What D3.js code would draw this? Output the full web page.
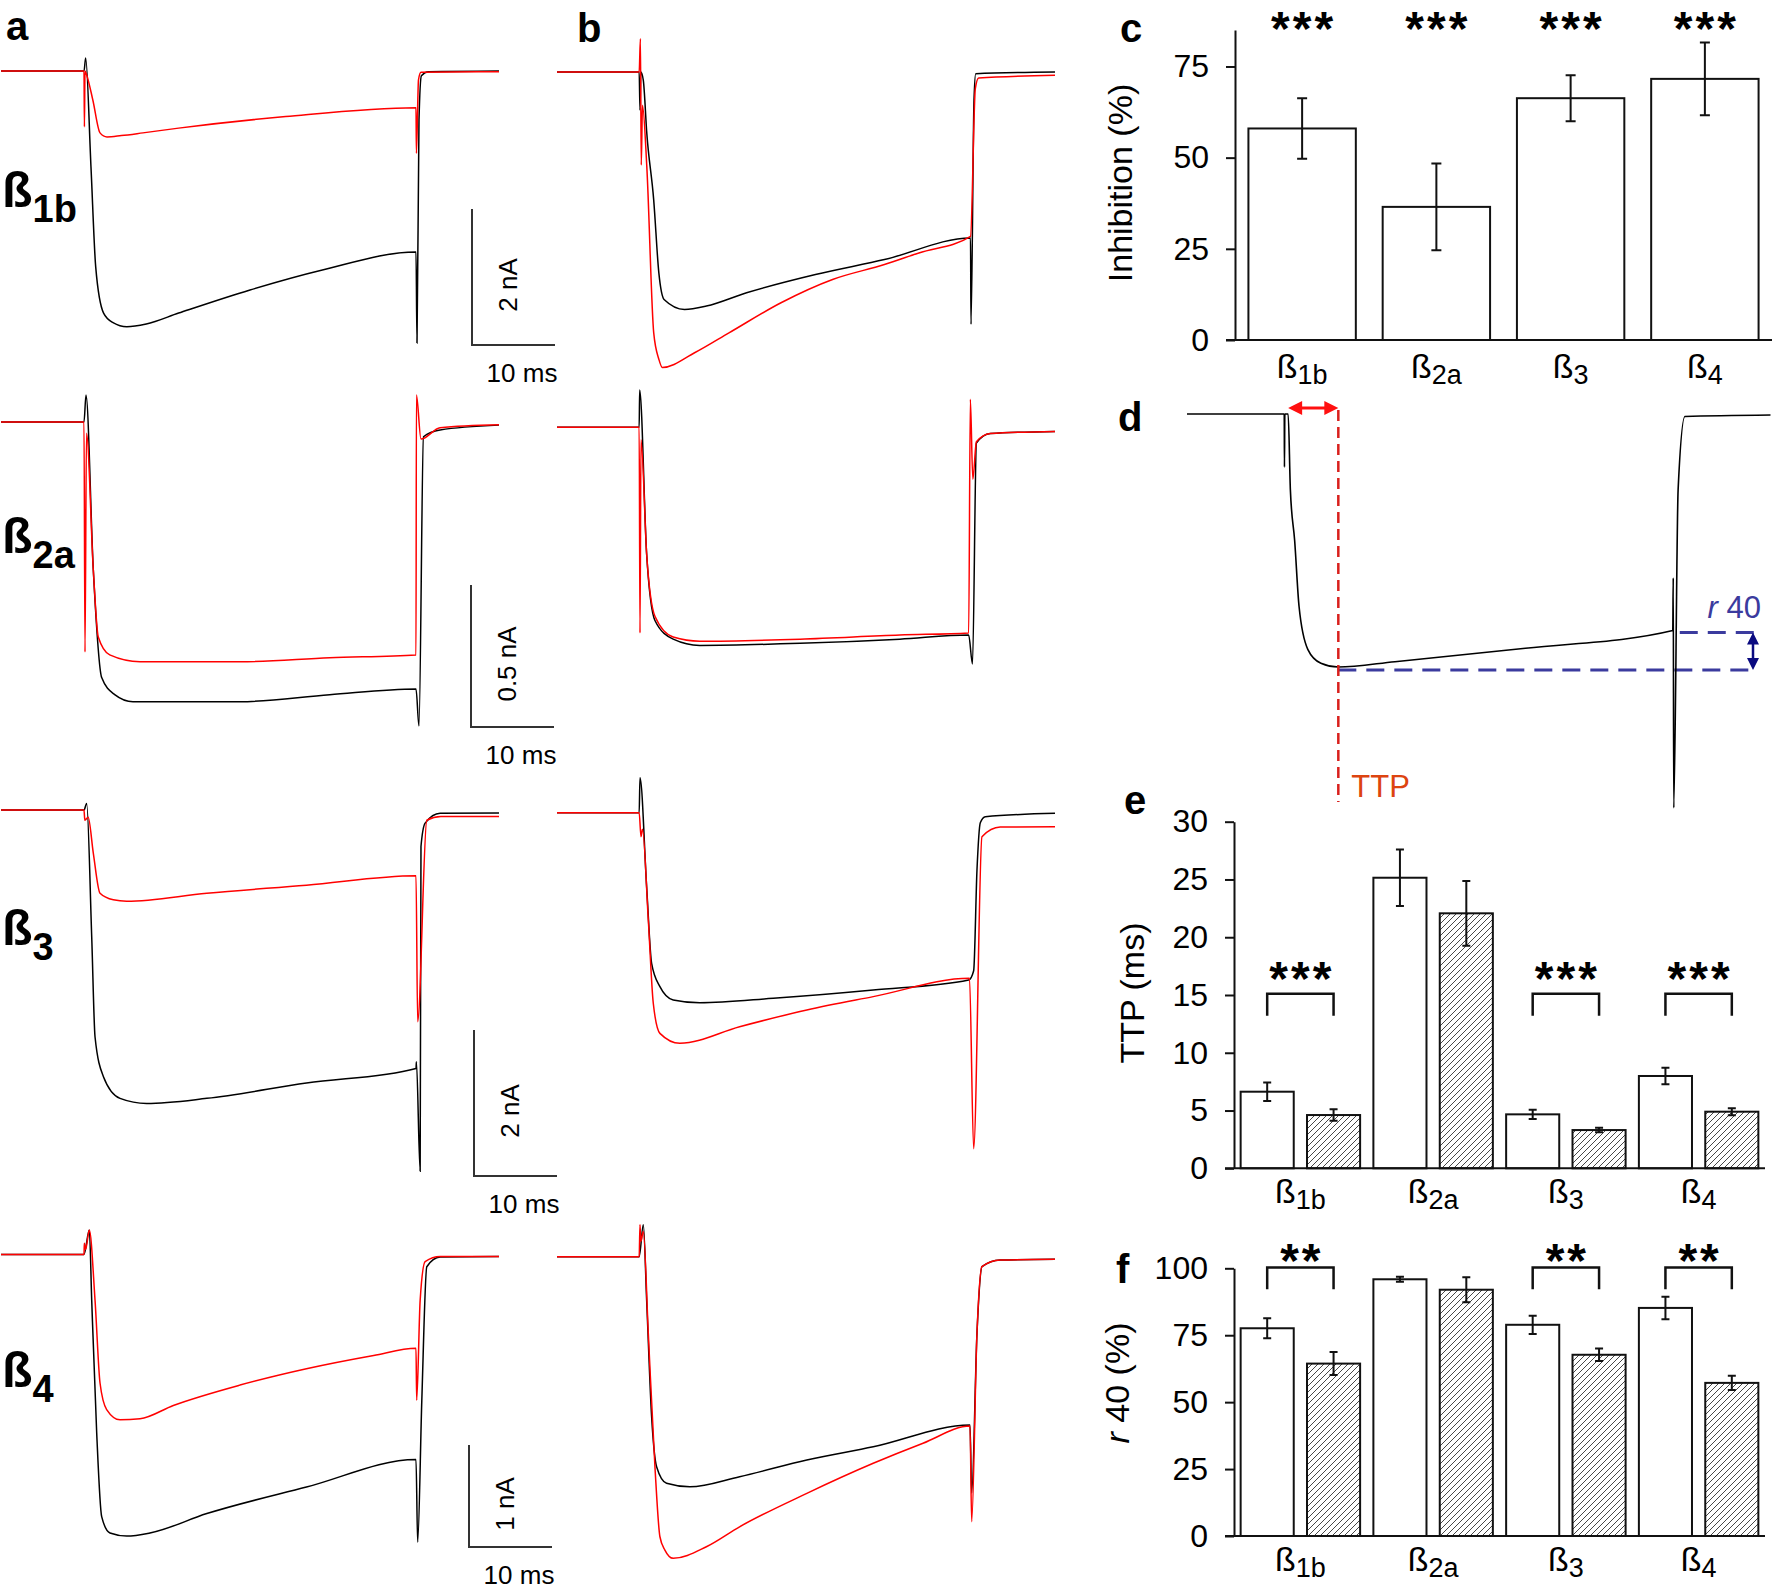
<!DOCTYPE html>
<html>
<head>
<meta charset="utf-8">
<script src="https://cdn.jsdelivr.net/npm/d3@7"></script>
<style>
  body { margin: 0; background: #fff; }
  svg { display: block; }
  text { font-family: "Liberation Sans", Arial, Helvetica, sans-serif; }
</style>
</head>
<body>
<script>
'use strict';

// ---- DATA ----------------------------------------------------------------
// traces: [time (ms), current]. column a in nA, column b normalised to end-of-pulse current
var a1Black = [[0,0],[10,0],[10.2,0.19],[10.84,-1.41],[11.41,-2.88],[12.36,-3.56],[13.5,-3.7],[15.16,-3.76],[17.5,-3.72],[21.4,-3.56],[30,-3.22],[38.6,-2.93],[50,-2.66],[50.12,-4.0],[50.36,-0.72],[50.65,-0.07],[51.5,-0.01],[60,0]];
var a1Red   = [[0,0],[10,0],[10.05,-0.82],[10.12,0],[10.3,-0.05],[11.07,-0.43],[11.93,-0.91],[12.77,-0.97],[14.5,-0.95],[17.1,-0.91],[21.4,-0.84],[34.3,-0.67],[50,-0.54],[50.05,-1.21],[50.3,-0.13],[50.6,-0.02],[60,-0.01]];
var a2Black = [[0,0],[10,0],[10.24,0.095],[11.12,-0.52],[12.13,-0.9],[13.7,-0.96],[15.9,-0.985],[28.8,-0.985],[39.6,-0.96],[50,-0.94],[50.36,-1.07],[50.9,-0.052],[52.9,-0.028],[60,-0.011]];
var a2Red   = [[0,0],[10,0],[10.12,-0.81],[10.3,-0.04],[11.12,-0.52],[11.72,-0.757],[13.1,-0.82],[16.75,-0.844],[28.8,-0.844],[39.6,-0.83],[50,-0.82],[50.05,0.095],[50.6,-0.06],[52.9,-0.02],[60,-0.01]];
var a3Black = [[0,0],[10,0],[10.32,0.09],[10.93,-1.74],[11.33,-3.11],[12.33,-3.65],[14.34,-3.95],[17.55,-4.02],[24.8,-3.95],[36.8,-3.74],[50,-3.54],[50.05,-3.45],[50.5,-4.95],[50.6,-0.5],[51.1,-0.18],[52.9,-0.045],[60,-0.04]];
var a3Red   = [[0,0],[10,0],[10.1,-0.14],[10.5,-0.1],[11.12,-0.59],[11.93,-1.14],[13.53,-1.23],[15.14,-1.25],[24.8,-1.14],[36.8,-1.03],[50,-0.9],[50.2,-2.9],[51.3,-0.14],[53,-0.09],[60,-0.09]];
var a4Black = [[0,0],[10,0],[10.64,0.24],[10.93,-0.45],[11.53,-1.75],[12.13,-2.57],[13.13,-2.73],[15.14,-2.76],[17.95,-2.73],[24.8,-2.54],[36.8,-2.28],[50,-2.01],[50.2,-2.82],[50.7,-1.43],[51.3,-0.12],[52.9,-0.025],[60,-0.02]];
var a4Red   = [[0,0],[10,0],[10.04,0.11],[10.2,0.05],[10.64,0.24],[11.33,-0.45],[11.93,-1.26],[12.73,-1.52],[14.34,-1.62],[16.75,-1.61],[20.76,-1.48],[28.8,-1.28],[36.8,-1.12],[44.9,-0.99],[50,-0.92],[50.08,-1.43],[50.5,-0.45],[51.1,-0.07],[52.9,-0.02],[60,-0.02]];

var b1Black = [[0,0],[9.9,0],[10,-0.23],[10.1,0],[10.4,-0.05],[10.82,-0.37],[11.65,-0.77],[12.27,-1.21],[12.9,-1.37],[15.37,-1.43],[18,-1.41],[22.84,-1.33],[31.14,-1.22],[39.45,-1.13],[49.82,-1.0],[49.88,-1.52],[50.24,-0.17],[50.45,-0.01],[60,0]];
var b1Red   = [[0,0],[9.9,0],[10.05,0.2],[10.15,-0.56],[10.3,-0.2],[10.82,-0.57],[11.65,-1.57],[12.27,-1.73],[12.69,-1.78],[16.63,-1.69],[20.77,-1.57],[26.99,-1.39],[33.2,-1.25],[39.45,-1.16],[43.6,-1.09],[49.82,-0.99],[50.4,-0.1],[50.8,-0.036],[60,-0.02]];
var b2Black = [[0,0],[9.9,0],[9.96,0.18],[10.8,-0.61],[11.8,-0.93],[14,-1.02],[17.2,-1.05],[29.3,-1.04],[41.3,-1.02],[49.6,-1.0],[50.06,-1.14],[50.53,-0.076],[52.2,-0.03],[60,-0.02]];
var b2Red   = [[0,0],[9.9,0],[10,-0.99],[10.12,-0.06],[10.8,-0.61],[11.8,-0.91],[14,-1.01],[17.2,-1.03],[29.3,-1.02],[41.3,-1.0],[49.6,-0.99],[49.8,0.135],[50.1,-0.25],[50.53,-0.07],[52.2,-0.03],[60,-0.02]];
var b3Black = [[0,0],[9.9,0],[10,0.21],[10.8,-0.445],[11.4,-0.906],[12.4,-1.046],[14,-1.126],[17.2,-1.143],[26.06,-1.116],[38.1,-1.066],[49.6,-1.006],[50.2,-0.95],[50.6,-0.345],[51,-0.06],[51.6,-0.024],[60,-0.004]];
var b3Red   = [[0,0],[9.9,0],[10.12,-0.144],[10.3,-0.1],[11,-0.645],[11.6,-1.146],[12.4,-1.327],[14.8,-1.387],[22,-1.287],[30.1,-1.186],[38.1,-1.106],[49.7,-0.996],[50.2,-2.02],[51.2,-0.144],[53.4,-0.086],[60,-0.084]];
var b4Black = [[0,0],[9.9,0],[10.4,0.19],[10.8,-0.257],[11.4,-0.948],[12,-1.244],[13.2,-1.342],[16,-1.363],[22,-1.303],[30.1,-1.204],[38.1,-1.126],[49.76,-0.997],[49.96,-1.4],[50.6,-0.452],[51.2,-0.059],[53.4,-0.02],[60,-0.015]];
var b4Red   = [[0,0],[9.9,0],[10,0.19],[10.1,0.09],[10.4,0.15],[11,-0.454],[11.8,-1.244],[12.4,-1.659],[13,-1.738],[14,-1.787],[18,-1.718],[22,-1.6],[30.1,-1.402],[38.1,-1.224],[44.1,-1.105],[49.76,-1.003],[49.96,-1.57],[50.6,-0.452],[51.2,-0.059],[53.4,-0.02],[60,-0.015]];

// panel d example trace, normalised to peak
var dTrace = [[0,0],[10,0],[10.02,-0.21],[10.06,0],[10.4,0],[10.63,-0.3],[11.07,-0.5],[11.52,-0.76],[12.42,-0.93],[13.77,-0.985],[15.56,-1.0],[21.38,-0.979],[34.8,-0.926],[49.95,-0.856],[50,-0.648],[50.05,-1.557],[50.5,-0.3],[51.2,-0.01],[60,-0.004]];
var dStart = 10.4, dPeak = [15.56, -1.0], dEnd = [49.95, -0.856];

var betas = ['1b', '2a', '3', '4'];
var scaleBarValues = [2, 0.5, 2, 1];
var scaleBarLabels = ['2 nA', '0.5 nA', '2 nA', '1 nA'];

var inhibition = [58.0, 36.5, 66.3, 71.6];
var inhibitionErr = [8.3, 11.9, 6.3, 10.0];
var inhibitionSig = ['***', '***', '***', '***'];
var inhibitionTicks = [0, 25, 50, 75];

var ttpCtrl = [6.63, 25.15, 4.67, 7.99];
var ttpCtrlErr = [0.8, 2.45, 0.4, 0.72];
var ttpDrug = [4.61, 22.07, 3.31, 4.9];
var ttpDrugErr = [0.5, 2.8, 0.2, 0.3];
var ttpSig = ['***', '', '***', '***'];
var ttpTicks = [0, 5, 10, 15, 20, 25, 30];
var ttpBracket = [15.1, 13.2];

var r40Ctrl = [77.6, 95.9, 78.9, 85.2];
var r40CtrlErr = [3.7, 0.9, 3.4, 4.2];
var r40Drug = [64.4, 92.0, 67.7, 57.2];
var r40DrugErr = [4.3, 4.7, 2.3, 2.7];
var r40Sig = ['**', '', '**', '**'];
var r40Ticks = [0, 25, 50, 75, 100];
var r40Bracket = [100.3, 92.2];

// ---- SETUP ---------------------------------------------------------------
var svg = d3.select('body').append('svg').attr('width', 1773).attr('height', 1591);

var defs = svg.append('defs');
defs.append('pattern')
  .attr('id', 'hatch')
  .attr('patternUnits', 'userSpaceOnUse')
  .attr('width', 6).attr('height', 6)
  .append('path')
  .attr('d', 'M-1,1 l2,-2 M0,6 l6,-6 M5,7 l2,-2')
  .attr('stroke', '#333').attr('stroke-width', 0.9);

function panelLetter(txt, x, y) {
  svg.append('text').attr('x', x).attr('y', y)
    .attr('font-size', 40).attr('font-weight', 'bold').text(txt);
}

function stars(g, x, y, txt) {
  g.append('text').attr('x', x + 1.5).attr('y', y)
    .attr('text-anchor', 'middle').attr('font-size', 48).attr('font-weight', 'bold')
    .attr('letter-spacing', 3).text(txt);
}

// ---- TRACES (a, b) -------------------------------------------------------
var rows = [
  { x0: 1,   base: 71,     k: 68,    black: a1Black, red: a1Red, bar: [472, 345] },
  { x0: 1,   base: 422,    k: 284,   black: a2Black, red: a2Red, bar: [471, 727] },
  { x0: 1,   base: 810,    k: 73,    black: a3Black, red: a3Red, bar: [474, 1176] },
  { x0: 1,   base: 1254.5, k: 102,   black: a4Black, red: a4Red, bar: [469, 1547] },
  { x0: 557, base: 72,     k: 166,   black: b1Black, red: b1Red },
  { x0: 557, base: 427.3,  k: 207.7, black: b2Black, red: b2Red },
  { x0: 557, base: 812.7,  k: 166.3, black: b3Black, red: b3Red },
  { x0: 557, base: 1256.7, k: 168.8, black: b4Black, red: b4Red }
];
var rowLabelY = [207, 553, 945, 1387];

rows.forEach(function(r, i) {
  var x = d3.scaleLinear().domain([0, 60]).range([r.x0, r.x0 + 498]);
  var y = d3.scaleLinear().domain([0, -1]).range([r.base, r.base + r.k]);
  var line = d3.line()
    .x(function(d) { return x(d[0]); })
    .y(function(d) { return y(d[1]); })
    .curve(d3.curveMonotoneX);
  var g = svg.append('g');
  g.append('path').datum(r.black).attr('d', line)
    .attr('fill', 'none').attr('stroke', '#000').attr('stroke-width', 1.5);
  g.append('path').datum(r.red).attr('d', line)
    .attr('fill', 'none').attr('stroke', '#ff0000').attr('stroke-width', 1.5);

  if (r.bar) {
    var v = scaleBarValues[i];
    var len = y(-v) - y(0);
    var wid = x(10) - x(0);
    var cx = r.bar[0], cy = r.bar[1];
    g.append('path')
      .attr('d', 'M' + cx + ',' + (cy - len) + 'V' + cy + 'H' + (cx + wid))
      .attr('fill', 'none').attr('stroke', '#333').attr('stroke-width', 2);
    g.append('text')
      .attr('transform', 'translate(' + (cx + 36) + ',' + (cy - len / 2 + 8) + ') rotate(-90)')
      .attr('text-anchor', 'middle').attr('dominant-baseline', 'central')
      .attr('font-size', 26).text(scaleBarLabels[i]);
    g.append('text')
      .attr('x', cx + 50).attr('y', cy + 37)
      .attr('text-anchor', 'middle').attr('font-size', 26).text('10 ms');

    var lab = g.append('text').attr('x', 2).attr('y', rowLabelY[i]).attr('font-weight', 'bold');
    lab.append('tspan').attr('font-size', 50).text('ß');
    lab.append('tspan').attr('font-size', 38).attr('dy', 15).text(betas[i]);
  }
});

panelLetter('a', 6, 40);
panelLetter('b', 577, 42);

// ---- PANEL d -------------------------------------------------------------
(function() {
  var x = d3.scaleLinear().domain([0, 60]).range([1187, 1770.5]);
  var y = d3.scaleLinear().domain([0, -1]).range([414, 667]);
  var line = d3.line()
    .x(function(d) { return x(d[0]); })
    .y(function(d) { return y(d[1]); })
    .curve(d3.curveMonotoneX);
  var g = svg.append('g');

  var blue = '#3b3b9e', navy = '#0a0a80', red = '#d9201c';
  var xp = x(dPeak[0]), yp = y(dPeak[1]), ye = y(dEnd[1]);
  var xr = 1756, xa = 1753;

  // blue dashed
  g.append('line').attr('x1', xp).attr('x2', xr).attr('y1', yp + 3).attr('y2', yp + 3)
    .attr('stroke', blue).attr('stroke-width', 3).attr('stroke-dasharray', '18,10');
  g.append('line').attr('x1', x(dEnd[0]) + 7).attr('x2', xr).attr('y1', ye + 2).attr('y2', ye + 2)
    .attr('stroke', blue).attr('stroke-width', 3).attr('stroke-dasharray', '18,10');

  g.append('path').datum(dTrace).attr('d', line)
    .attr('fill', 'none').attr('stroke', '#000').attr('stroke-width', 1.6);

  // red dashed TTP line
  g.append('line').attr('x1', xp).attr('x2', xp).attr('y1', 410).attr('y2', 802)
    .attr('stroke', red).attr('stroke-width', 2.5).attr('stroke-dasharray', '11,6');

  // red double arrow
  var xs = x(dStart), ya = 408;
  g.append('line').attr('x1', xs + 12).attr('x2', xp - 12).attr('y1', ya).attr('y2', ya)
    .attr('stroke', '#ff1010').attr('stroke-width', 3);
  g.append('path')
    .attr('d', 'M' + xs + ',' + ya + 'l14,-7v14z M' + xp + ',' + ya + 'l-14,-7v14z')
    .attr('fill', '#ff1010');

  // navy double arrow
  var y1 = ye + 2, y2 = yp + 3;
  g.append('line').attr('x1', xa).attr('x2', xa).attr('y1', y1 + 10).attr('y2', y2 - 10)
    .attr('stroke', navy).attr('stroke-width', 2.5);
  g.append('path')
    .attr('d', 'M' + xa + ',' + y1 + 'l-6,12h12z M' + xa + ',' + y2 + 'l-6,-12h12z')
    .attr('fill', navy);

  g.append('text').attr('x', xp + 13).attr('y', 797)
    .attr('font-size', 31).attr('fill', '#dd4410').text('TTP');
  var rt = g.append('text').attr('x', 1761).attr('y', 618)
    .attr('text-anchor', 'end').attr('font-size', 31).attr('fill', blue);
  rt.append('tspan').attr('font-style', 'italic').text('r');
  rt.append('tspan').text(' 40');
})();
panelLetter('d', 1118, 431);

// ---- BAR CHART HELPERS ---------------------------------------------------
function drawAxes(y, ticks, axisX, xEnd, title, titleX) {
  var g = svg.append('g');
  var ax = g.append('g').attr('transform', 'translate(' + axisX + ',0)')
    .call(d3.axisLeft(y).tickValues(ticks).tickSize(9).tickPadding(17).tickSizeOuter(0));
  ax.attr('font-family', null).attr('font-size', 32);
  ax.select('.domain').attr('stroke', '#111').attr('stroke-width', 2);
  ax.selectAll('.tick line').attr('stroke', '#111').attr('stroke-width', 2);
  ax.selectAll('.tick text').attr('fill', '#000');
  g.append('line').attr('x1', axisX - 9).attr('x2', xEnd)
    .attr('y1', y(0)).attr('y2', y(0)).attr('stroke', '#111').attr('stroke-width', 2);
  var yMid = (y.range()[0] + y.range()[1]) / 2;
  var t = g.append('text')
    .attr('transform', 'translate(' + titleX + ',' + (title.cy || yMid) + ') rotate(-90)')
    .attr('text-anchor', 'middle').attr('dominant-baseline', 'central').attr('font-size', 34);
  title.parts.forEach(function(p) {
    t.append('tspan').attr('font-style', p[1] ? 'italic' : null).text(p[0]);
  });
  return g;
}

function xLabels(xCenter, yBase) {
  betas.forEach(function(b) {
    var t = svg.append('text').attr('x', xCenter(b)).attr('y', yBase).attr('text-anchor', 'middle');
    t.append('tspan').attr('font-size', 34).text('ß');
    t.append('tspan').attr('font-size', 27).attr('dy', 6).text(b);
  });
}

function errorBars(g, cx, y, vals, errs, cap) {
  vals.forEach(function(v, i) {
    var x = cx(i);
    g.append('path')
      .attr('d', 'M' + x + ',' + y(v + errs[i]) + 'V' + y(v - errs[i]) +
        'M' + (x - cap) + ',' + y(v + errs[i]) + 'h' + (2 * cap) +
        'M' + (x - cap) + ',' + y(v - errs[i]) + 'h' + (2 * cap))
      .attr('fill', 'none').attr('stroke', '#111').attr('stroke-width', 2);
  });
}

// ---- PANEL c -------------------------------------------------------------
(function() {
  var x = d3.scaleBand().domain(betas).range([1235, 1772]).paddingInner(0.2).paddingOuter(0.1);
  var y = d3.scaleLinear().domain([0, 85]).range([340, 30]);
  var g = svg.append('g');
  g.selectAll('rect').data(inhibition).enter().append('rect')
    .attr('x', function(d, i) { return x(betas[i]); })
    .attr('y', function(d) { return y(d); })
    .attr('width', x.bandwidth())
    .attr('height', function(d) { return y(0) - y(d); })
    .attr('fill', '#fff').attr('stroke', '#111').attr('stroke-width', 2);
  errorBars(g, function(i) { return x(betas[i]) + x.bandwidth() / 2; }, y, inhibition, inhibitionErr, 5);
  drawAxes(y, inhibitionTicks, 1235, 1772, { parts: [['Inhibition (%)']], cy: 183 }, 1120);
  inhibitionSig.forEach(function(s, i) {
    stars(g, x(betas[i]) + x.bandwidth() / 2, 45, s);
  });
  xLabels(function(b) { return x(b) + x.bandwidth() / 2; }, 378);
})();
panelLetter('c', 1120, 42);

// ---- PANELS e, f ---------------------------------------------------------
function pairedChart(y, ctrl, ctrlErr, drug, drugErr, sig, bracket, ticks, title, titleX, starY, labelY) {
  var xg = d3.scaleBand().domain(betas).range([1234, 1765]);
  var xs = d3.scaleBand().domain(['ctrl', 'drug']).range([0, xg.bandwidth()])
    .paddingInner(0.2).paddingOuter(0.1);
  var g = svg.append('g');
  var series = [['ctrl', ctrl, ctrlErr, '#fff'], ['drug', drug, drugErr, 'url(#hatch)']];
  series.forEach(function(s) {
    g.selectAll('rect.' + s[0]).data(s[1]).enter().append('rect')
      .attr('x', function(d, i) { return xg(betas[i]) + xs(s[0]); })
      .attr('y', function(d) { return y(d); })
      .attr('width', xs.bandwidth())
      .attr('height', function(d) { return y(0) - y(d); })
      .attr('fill', s[3]).attr('stroke', '#111').attr('stroke-width', 2);
  });
  series.forEach(function(s) {
    errorBars(g, function(i) { return xg(betas[i]) + xs(s[0]) + xs.bandwidth() / 2; }, y, s[1], s[2], 4);
  });
  drawAxes(y, ticks, 1234, 1765, title, titleX);
  sig.forEach(function(st, i) {
    if (!st) return;
    var xa = xg(betas[i]) + xs('ctrl') + xs.bandwidth() / 2;
    var xb = xg(betas[i]) + xs('drug') + xs.bandwidth() / 2;
    g.append('path')
      .attr('d', 'M' + xa + ',' + y(bracket[1]) + 'V' + y(bracket[0]) + 'H' + xb + 'V' + y(bracket[1]))
      .attr('fill', 'none').attr('stroke', '#111').attr('stroke-width', 2.5);
    stars(g, (xa + xb) / 2, starY, st);
  });
  xLabels(function(b) { return xg(b) + xg.bandwidth() / 2; }, labelY);
}

pairedChart(d3.scaleLinear().domain([0, 30]).range([1168.3, 821.7]),
  ttpCtrl, ttpCtrlErr, ttpDrug, ttpDrugErr, ttpSig, ttpBracket, ttpTicks,
  { parts: [['TTP (ms)']], cy: 993 }, 1132, 995, 1203);
panelLetter('e', 1124, 814);

pairedChart(d3.scaleLinear().domain([0, 100]).range([1536, 1268.3]),
  r40Ctrl, r40CtrlErr, r40Drug, r40DrugErr, r40Sig, r40Bracket, r40Ticks,
  { parts: [['r', true], [' 40 (%)']], cy: 1383 }, 1117, 1277, 1571);
panelLetter('f', 1116, 1283);
</script>
</body>
</html>
